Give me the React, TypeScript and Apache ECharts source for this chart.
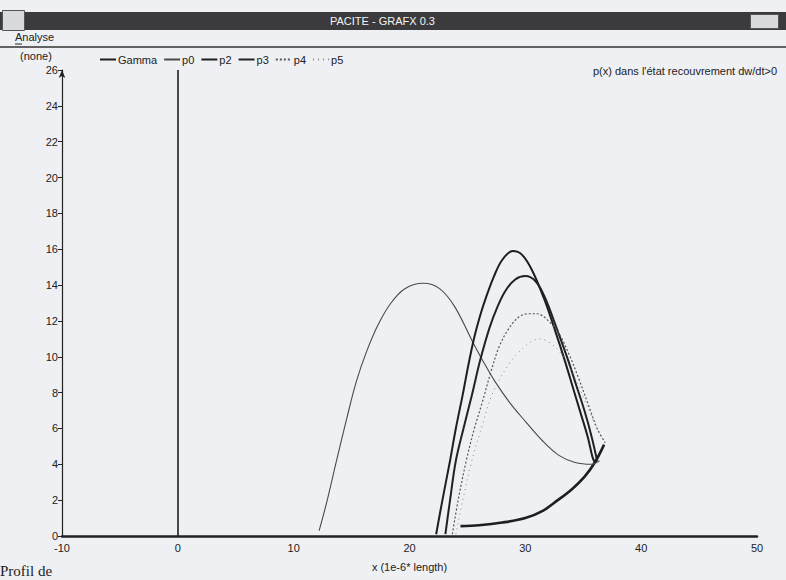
import React, { useEffect, useRef } from "react";
import * as echarts from "echarts";

const seriesNames = ["Gamma", "p0", "p2", "p3", "p4", "p5"];
const xTicks = [-10, 0, 10, 20, 30, 40, 50];
const yTicks = [0, 2, 4, 6, 8, 10, 12, 14, 16, 18, 20, 22, 24, 26];

const gammaData = [
  [24.4, 0.55], [26, 0.6], [28, 0.75], [30, 1.0], [31.5, 1.4], [32.8, 2.0],
  [34, 2.6], [35.1, 3.3], [36, 4.1], [36.8, 5.1],
];
const p0Data = [
  [12.2, 0.3], [12.9, 2.0], [13.7, 4.2], [14.6, 6.6], [15.4, 8.6], [16.3, 10.3],
  [17.3, 11.8], [18.4, 13.0], [19.6, 13.8], [21.2, 14.1], [22.6, 13.8], [23.9, 12.8],
  [25.4, 10.9], [26.4, 9.7], [27.4, 8.6], [28.7, 7.4], [30, 6.4], [31.5, 5.3],
  [32.9, 4.5], [34.3, 4.1], [35.7, 4.0], [36.4, 4.2],
];
const p2Data = [
  [22.3, 0.1], [22.9, 2.2], [23.5, 4.2], [24.0, 6.0], [24.6, 7.9], [25.1, 9.6],
  [25.6, 11.1], [26.1, 12.3], [26.6, 13.3], [27.3, 14.5], [28.0, 15.4], [28.9, 15.9],
  [29.7, 15.7], [30.6, 14.8], [31.7, 13.1], [32.6, 11.4], [33.4, 9.8], [34.1, 8.3],
  [34.8, 6.8], [35.4, 5.5], [35.8, 4.4], [36.0, 4.1],
];
const p3Data = [
  [23.1, 0.1], [23.5, 2.0], [24, 4.2], [24.7, 6.1], [25.4, 7.9], [26.1, 9.8],
  [26.9, 11.6], [27.6, 12.8], [28.3, 13.7], [29.1, 14.3], [30, 14.5], [30.9, 14.2],
  [31.7, 13.3], [32.7, 11.6], [33.7, 9.8], [34.4, 8.4], [35.1, 7.0], [35.7, 5.6],
  [36.2, 4.2],
];
const p4Data = [
  [23.7, 0.1], [24.2, 2.0], [24.9, 4.2], [25.6, 6.0], [26.3, 7.5], [27, 9.1],
  [27.7, 10.5], [28.5, 11.5], [29.4, 12.2], [30.2, 12.4], [31, 12.4], [32, 12.0],
  [32.9, 11.3], [33.8, 10.1], [34.6, 8.8], [35.4, 7.4], [36.2, 6.0], [36.9, 5.2],
];
const p5Data = [
  [24.0, 0.1], [24.6, 2.0], [25.3, 4.0], [26.2, 6.0], [27.2, 8.0], [28.6, 9.6],
  [30, 10.6], [31.2, 11.0], [32.3, 10.7], [33.5, 9.8], [34.5, 8.5], [35.5, 7.0],
  [36.3, 5.8],
];
const verticalLineX = 0;

const FONT = "Liberation Sans";

export default function App() {
  const ref = useRef<HTMLDivElement>(null);
  useEffect(() => {
    if (!ref.current) return;
    const chart = echarts.init(ref.current, undefined, { renderer: "svg" });
    const lineSeries = (name: string, data: number[][], style: any, extra: any = {}) => ({
      name,
      type: "line",
      data,
      showSymbol: false,
      symbol: "none",
      smooth: 0.35,
      lineStyle: style,
      itemStyle: { color: style.color },
      ...extra,
    });
    chart.setOption({
      animation: false,
      backgroundColor: "#eef0f4",
      textStyle: { fontFamily: FONT },
      title: {
        text: "p(x) dans l'état recouvrement dw/dt>0",
        right: 4,
        top: 60,
        textStyle: { fontSize: 11, fontWeight: "normal", color: "#222", fontFamily: FONT },
      },
      legend: {
        data: seriesNames,
        left: 94,
        top: 49,
        itemWidth: 16,
        itemHeight: 10,
        itemGap: 6,
        itemStyle: { opacity: 0 },
        textStyle: { fontSize: 11, color: "#222", padding: [0, 0, 0, -3] },
      },
      grid: { left: 62, right: 29, top: 70, bottom: 44, containLabel: false },
      xAxis: {
        type: "value",
        min: xTicks[0],
        max: xTicks[xTicks.length - 1],
        interval: 10,
        name: "x (1e-6* length)",
        nameLocation: "middle",
        nameGap: 25,
        nameTextStyle: { fontSize: 11, color: "#222" },
        axisLine: { onZero: false, lineStyle: { color: "#222", width: 2.5 } },
        axisTick: { show: false },
        axisLabel: { fontSize: 11, color: "#222", margin: 6 },
        splitLine: { show: false },
      },
      yAxis: {
        type: "value",
        min: yTicks[0],
        max: yTicks[yTicks.length - 1],
        interval: 2,
        axisLine: {
          show: true,
          onZero: false,
          lineStyle: { color: "#222", width: 1.2 },
          symbol: ["none", "arrow"],
          symbolSize: [5, 8],
        },
        axisTick: { show: true, length: 4, lineStyle: { color: "#222" } },
        axisLabel: { fontSize: 11, color: "#222", margin: 4 },
        splitLine: { show: false },
      },
      graphic: [
        { type: "rect", left: 0, top: 12, shape: { width: 786, height: 18 }, style: { fill: "#3b3b3e" }, silent: true },
        { type: "rect", left: 2, top: 10, shape: { width: 22, height: 20 }, style: { fill: "#d8dade", stroke: "#555" }, silent: true },
        { type: "rect", left: 750, top: 14, shape: { width: 28, height: 14 }, style: { fill: "#d8dade", stroke: "#555" }, silent: true },
        { type: "text", left: 330, top: 15, style: { text: "PACITE - GRAFX 0.3", fill: "#f4f4f4", font: `11px ${FONT}` }, silent: true },
        { type: "text", left: 15, top: 31, style: { text: "Analyse", fill: "#222", font: `11px ${FONT}` }, silent: true },
        { type: "line", shape: { x1: 15, y1: 44, x2: 22, y2: 44 }, style: { stroke: "#222", lineWidth: 1 }, silent: true },
        { type: "line", shape: { x1: 0, y1: 47, x2: 786, y2: 47 }, style: { stroke: "#333", lineWidth: 1.5 }, silent: true },
        { type: "text", left: 20, top: 50, style: { text: "(none)", fill: "#222", font: `11px ${FONT}` }, silent: true },
        { type: "text", left: 0, top: 563, style: { text: "Profil de", fill: "#222", font: `15px "Liberation Serif"` }, silent: true },
      ],
      series: [
        lineSeries("Gamma", gammaData, { color: "#1e1e1e", width: 2.6 }, {
          markLine: {
            silent: true,
            symbol: "none",
            label: { show: false },
            lineStyle: { color: "#1e1e1e", width: 1.6, type: "solid" },
            data: [[{ coord: [verticalLineX, 0] }, { coord: [verticalLineX, 26] }]],
          },
        }),
        lineSeries("p0", p0Data, { color: "#4a4a4a", width: 1.1 }),
        lineSeries("p2", p2Data, { color: "#1e1e1e", width: 2 }),
        lineSeries("p3", p3Data, { color: "#222", width: 2 }),
        lineSeries("p4", p4Data, { color: "#555", width: 1.2, type: [2, 2] }),
        lineSeries("p5", p5Data, { color: "#888", width: 1, type: [1, 4] }),
      ],
    });
    return () => chart.dispose();
  }, []);
  return (
    <div
      ref={ref}
      style={{ position: "fixed", left: 0, top: 0, width: 786, height: 580, overflow: "hidden" }}
    />
  );
}
